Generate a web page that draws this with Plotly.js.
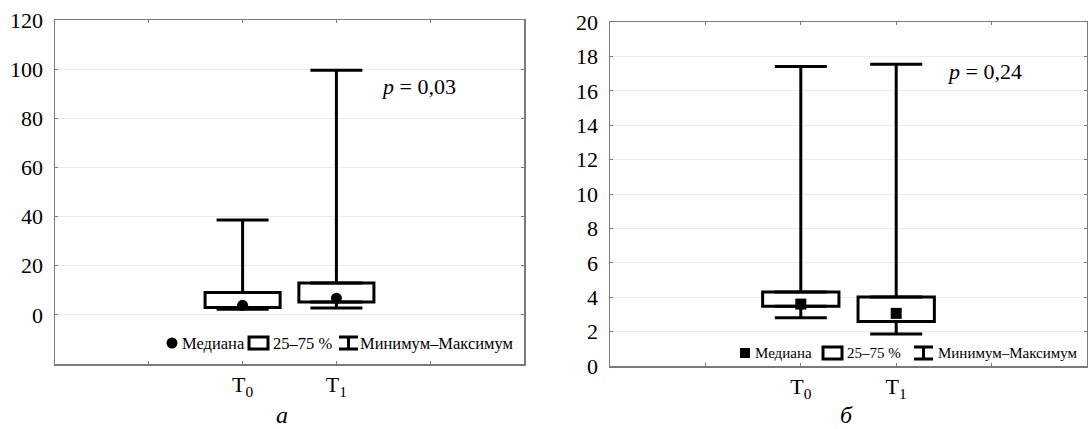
<!DOCTYPE html>
<html>
<head>
<meta charset="utf-8">
<script src="https://cdn.plot.ly/plotly-3.0.1.min.js"></script>
<style>html,body{margin:0;padding:0;background:#fff;}#chart{width:1088px;height:429px;}</style>
</head>
<body>
<div id="chart"></div>
<script>
// ---- data ----
const groups = ['T<sub>0</sub>', 'T<sub>1</sub>'];
const tickLabels = ['T<sub>0</sub>', 'T<sub>1</sub>'];

// panel а
const aMin    = [2.3, 2.8];
const aQ1     = [3.0, 5.2];
const aMedian = [3.9, 6.8];
const aQ3     = [9.1, 13.0];
const aMax    = [38.6, 99.5];
const aP = '<i>p</i> = 0,03';

// panel б
const bMin    = [2.8, 1.86];
const bQ1     = [3.47, 2.58];
const bMedian = [3.6, 3.06];
const bQ3     = [4.3, 4.01];
const bMax    = [17.42, 17.55];
const bP = '<i>p</i> = 0,24';

const legendNames = ['Медиана', '25–75 %', 'Минимум–Максимум'];
const panelLabels = ['а', 'б'];

// ---- helpers ----
const W = 1088, H = 429;
const px = x => x / W;
const py = y => 1 - y / H;
const xs = groups.map((_, i) => i);
const FONT = '"Liberation Serif", "Times New Roman", serif';

function panelTraces(mins, q1, med, q3, maxs, xa, ya, symbol) {
  return [
    { type: 'bar', x: xs, base: q1, y: q3.map((v, i) => v - q1[i]), width: 0.8,
      marker: { color: 'white', line: { color: 'black', width: 3 } },
      xaxis: xa, yaxis: ya, showlegend: false, hoverinfo: 'skip' },
    { type: 'scatter', mode: 'markers', x: xs, y: q3,
      marker: { size: 1, opacity: 0 },
      error_y: { type: 'data', symmetric: false, array: maxs.map((v, i) => v - q3[i]),
                 arrayminus: xs.map(() => 0), width: 26, thickness: 3, color: 'black' },
      xaxis: xa, yaxis: ya, showlegend: false, hoverinfo: 'skip' },
    { type: 'scatter', mode: 'markers', x: xs, y: q1,
      marker: { size: 1, opacity: 0 },
      error_y: { type: 'data', symmetric: false, array: xs.map(() => 0),
                 arrayminus: q1.map((v, i) => v - mins[i]), width: 26, thickness: 3, color: 'black' },
      xaxis: xa, yaxis: ya, showlegend: false, hoverinfo: 'skip' },
    { type: 'scatter', mode: 'markers', x: xs, y: med,
      marker: { symbol: symbol, size: 11, color: 'black' },
      xaxis: xa, yaxis: ya, showlegend: false, hoverinfo: 'skip' }
  ];
}

const data = [
  ...panelTraces(aMin, aQ1, aMedian, aQ3, aMax, 'x', 'y', 'circle'),
  ...panelTraces(bMin, bQ1, bMedian, bQ3, bMax, 'x2', 'y2', 'square')
];

const axisCommon = {
  showline: true, mirror: 'ticks', linecolor: '#7a7a7a', linewidth: 1.5,
  ticks: 'inside', ticklen: 3, tickcolor: '#7a7a7a', zeroline: false,
  tickfont: { family: FONT, size: 22, color: 'black' }
};
const xCommon = Object.assign({}, axisCommon, {
  range: [-2, 3], tickvals: xs, ticktext: tickLabels, showgrid: false,
  minor: { tickvals: [-1, 2], ticks: 'inside', ticklen: 3, tickcolor: '#7a7a7a', showgrid: false }
});

// legend drawing (shapes + annotations)
function legend(cfg) {
  const shapes = [], anns = [];
  const yc = cfg.y;
  if (cfg.symbol === 'circle') {
    shapes.push({ type: 'circle', xref: 'paper', yref: 'paper',
      x0: px(cfg.m - 5.5), x1: px(cfg.m + 5.5), y0: py(yc + 5.5), y1: py(yc - 5.5),
      fillcolor: 'black', line: { width: 0 } });
  } else {
    shapes.push({ type: 'rect', xref: 'paper', yref: 'paper',
      x0: px(cfg.m - 5), x1: px(cfg.m + 5), y0: py(yc + 5), y1: py(yc - 5),
      fillcolor: 'black', line: { width: 0 } });
  }
  shapes.push({ type: 'rect', xref: 'paper', yref: 'paper',
    x0: px(cfg.b0), x1: px(cfg.b0 + 19), y0: py(yc + 6), y1: py(yc - 6),
    fillcolor: 'white', line: { color: 'black', width: 3 } });
  const w0 = cfg.w0, w1 = cfg.w0 + 19, wm = (w0 + w1) / 2;
  shapes.push({ type: 'path', xref: 'paper', yref: 'paper',
    path: `M${px(w0)},${py(yc - 6)} L${px(w1)},${py(yc - 6)} M${px(wm)},${py(yc - 6)} L${px(wm)},${py(yc + 6)} M${px(w0)},${py(yc + 6)} L${px(w1)},${py(yc + 6)}`,
    line: { color: 'black', width: 3 } });
  [cfg.t0, cfg.t1, cfg.t2].forEach((tx, i) => {
    anns.push({ xref: 'paper', yref: 'paper', x: px(tx), y: py(yc), xanchor: 'left', yanchor: 'middle',
      text: legendNames[i], showarrow: false, borderpad: 0,
      font: { family: FONT, size: cfg.fs, color: 'black' } });
  });
  return { shapes, anns };
}

const legA = legend({ y: 343, symbol: 'circle', m: 172, t0: 181, b0: 249, t1: 272, w0: 339, t2: 359, fs: 16.5 });
const legB = legend({ y: 353, symbol: 'square', m: 745, t0: 754, b0: 823, t1: 846, w0: 914, t2: 937, fs: 15 });

const layout = {
  width: W, height: H,
  margin: { l: 0, r: 0, t: 0, b: 0 },
  paper_bgcolor: 'white', plot_bgcolor: 'white',
  showlegend: false,
  font: { family: FONT, color: 'black' },
  xaxis: Object.assign({}, xCommon, { domain: [px(55), px(524)], anchor: 'y' }),
  yaxis: Object.assign({}, axisCommon, {
    domain: [py(364), py(20)], range: [-20, 120], tickvals: [0, 20, 40, 60, 80, 100, 120],
    showgrid: true, gridcolor: '#ececec', gridwidth: 1, anchor: 'x', ticklabelstandoff: 6 }),
  xaxis2: Object.assign({}, xCommon, { domain: [px(610), px(1087)], anchor: 'y2' }),
  yaxis2: Object.assign({}, axisCommon, {
    domain: [py(366), py(22)], range: [0, 20], dtick: 2,
    showgrid: true, gridcolor: '#ececec', gridwidth: 1, anchor: 'x2', ticklabelstandoff: 6 }),
  shapes: [...legA.shapes, ...legB.shapes],
  annotations: [
    { xref: 'x', yref: 'y', x: 1.45, y: 92.8, xanchor: 'left', yanchor: 'middle', text: aP,
      showarrow: false, font: { family: FONT, size: 22, color: 'black' } },
    { xref: 'x2', yref: 'y2', x: 1.51, y: 17.1, xanchor: 'left', yanchor: 'middle', text: bP,
      showarrow: false, font: { family: FONT, size: 22, color: 'black' } },
    { xref: 'paper', yref: 'paper', x: px(282), y: 0, xanchor: 'center', yanchor: 'bottom', borderpad: 0,
      text: '<i>' + panelLabels[0] + '</i>', showarrow: false, font: { family: FONT, size: 24, color: 'black' } },
    { xref: 'paper', yref: 'paper', x: px(846), y: 0, xanchor: 'center', yanchor: 'bottom', borderpad: 0,
      text: '<i>' + panelLabels[1] + '</i>', showarrow: false, font: { family: FONT, size: 24, color: 'black' } },
    ...legA.anns, ...legB.anns
  ]
};

Plotly.newPlot('chart', data, layout, { staticPlot: true, displayModeBar: false });
</script>
</body>
</html>
